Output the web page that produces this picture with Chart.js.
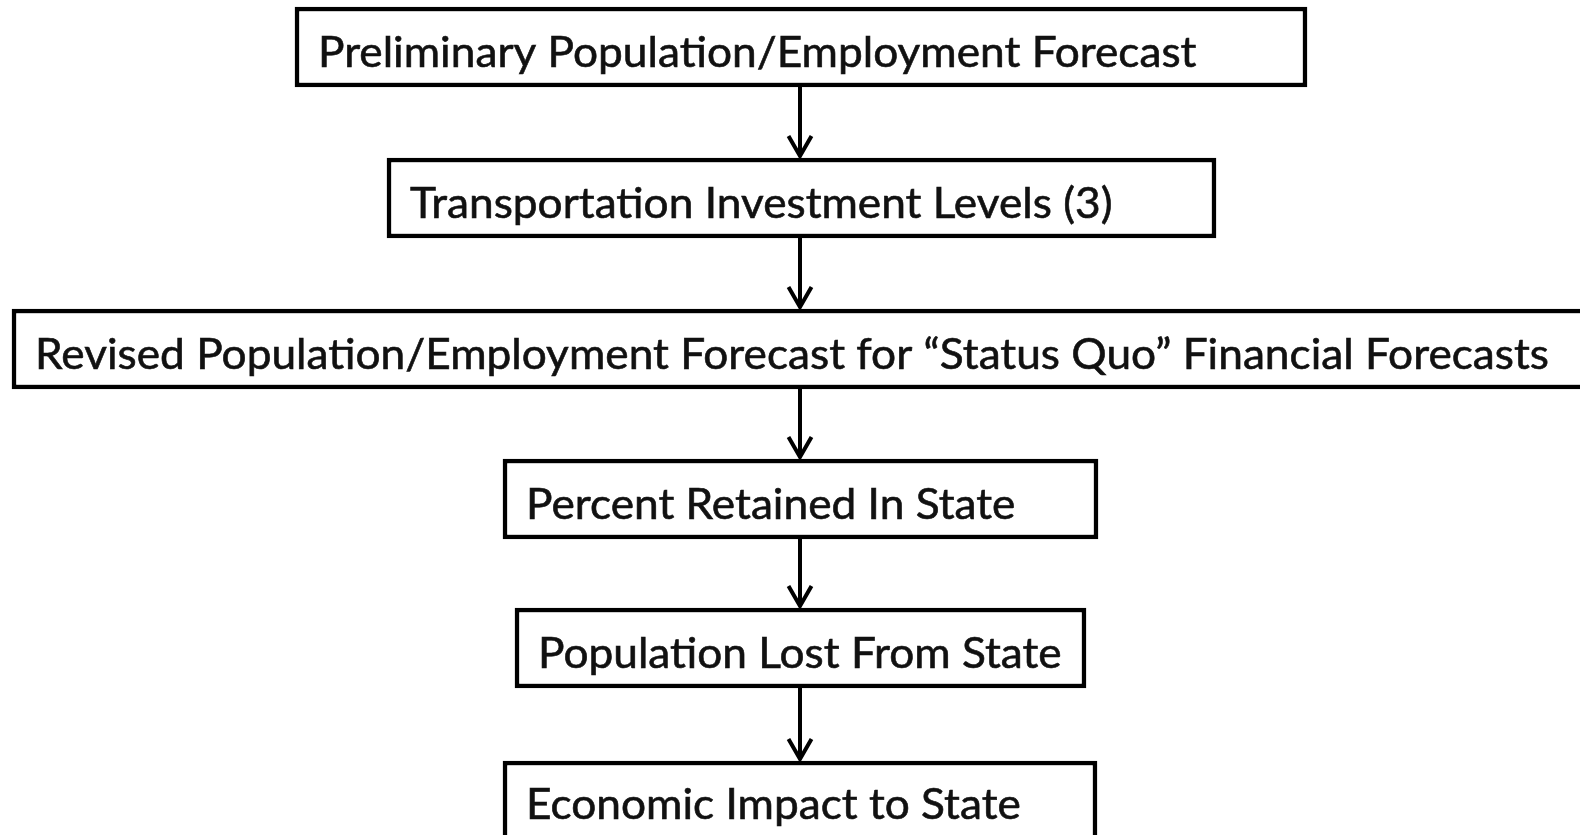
<!DOCTYPE html>
<html>
<head>
<meta charset="utf-8">
<title>Forecast flow</title>
<script src="https://cdn.jsdelivr.net/npm/chart.js@4/dist/chart.umd.min.js"></script>
<style>
    html, body { margin: 0; padding: 0; background: #fff; }
    #wrap { width: 1580px; height: 835px; }
</style>
</head>
<body>
<div id="wrap"><canvas id="flow"></canvas></div>
<script>
// flow steps, top to bottom
var steps = [
    'Preliminary Population/Employment Forecast',
    'Transportation Investment Levels (3)',
    'Revised Population/Employment Forecast for \u201cStatus Quo\u201d Financial Forecasts',
    'Percent Retained In State',
    'Population Lost From State',
    'Economic Impact to State'
];
// box extents on the page grid (x from left, y from top)
var boxLeft = [295, 387, 12, 503, 515, 503];
var boxRight = [1307, 1216, 1600, 1098, 1086, 1097];
var boxMid = [47, 198, 349, 499, 648, 801];

function flowLabels() {
    return {
        id: 'flowLabels',
        afterDatasetsDraw: function (chart) {
            var ctx = chart.ctx;
            var meta = chart.getDatasetMeta(0);
            var x = chart.scales.x;
            var arrowX = x.getPixelForValue(800);

            ctx.save();
            // arrows between boxes
            ctx.strokeStyle = '#000';
            ctx.lineWidth = 4;
            for (var i = 0; i < meta.data.length - 1; i++) {
                var a = meta.data[i].getProps(['y', 'height'], true);
                var b = meta.data[i + 1].getProps(['y', 'height'], true);
                var y0 = a.y + a.height / 2;
                var y1 = b.y - b.height / 2 + 1;
                ctx.lineCap = 'butt';
                ctx.beginPath();
                ctx.moveTo(arrowX, y0);
                ctx.lineTo(arrowX, y1 - 3);
                ctx.stroke();
                ctx.lineJoin = 'miter';
                ctx.beginPath();
                ctx.moveTo(arrowX - 11.5, y1 - 23);
                ctx.lineTo(arrowX, y1 - 3);
                ctx.lineTo(arrowX + 11.5, y1 - 23);
                ctx.stroke();
            }

            // text inside boxes
            ctx.font = '42px Lato, "Open Sans", sans-serif';
            ctx.fillStyle = '#111';
            ctx.strokeStyle = '#111';
            ctx.lineWidth = 0.6;
            ctx.textBaseline = 'alphabetic';
            ctx.textAlign = 'left';
            var sx = 1514 / ctx.measureText(steps[2]).width;
            meta.data.forEach(function (bar, i) {
                var p = bar.getProps(['x', 'y', 'base', 'height'], true);
                var left = Math.min(p.x, p.base);
                var bottom = p.y + p.height / 2;
                // last box runs off the page, keep its text on the same line as the others
                var baseY = i === meta.data.length - 1 ? bottom - 22 : bottom - 20;
                ctx.save();
                ctx.translate(left + 23, baseY);
                ctx.scale(sx, 1);
                ctx.fillText(steps[i], 0, 0);
                ctx.strokeText(steps[i], 0, 0);
                ctx.restore();
            });
            ctx.restore();
        }
    };
}

var data = steps.map(function (s, i) {
    return { x: [boxLeft[i], boxRight[i]], y: boxMid[i] };
});

new Chart(document.getElementById('flow'), {
    type: 'bar',
    data: {
        datasets: [{
            data: data,
            backgroundColor: '#fff',
            borderColor: '#000',
            borderWidth: 4.5,
            borderSkipped: false,
            barThickness: 80
        }]
    },
    options: {
        indexAxis: 'y',
        responsive: true,
        maintainAspectRatio: false,
        animation: false,
        layout: { padding: 0 },
        plugins: { legend: { display: false }, tooltip: { enabled: false } },
        scales: {
            x: { type: 'linear', min: 0, max: 1580, display: false },
            y: { type: 'linear', min: 0, max: 835, reverse: true, offset: false, display: false }
        }
    },
    plugins: [flowLabels()]
});
</script>
</body>
</html>
